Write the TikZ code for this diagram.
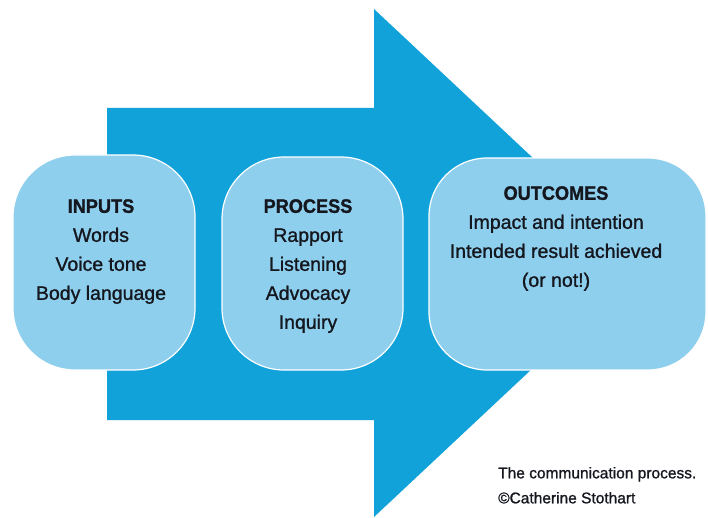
\documentclass[tikz,border=0pt]{standalone}
\usepackage{fontspec}
\setmainfont{Liberation Sans}[FakeBold=1.2, BoldFont={Liberation Sans Bold}, BoldFeatures={FakeStretch=0.93}]
\definecolor{arrowblue}{HTML}{12A2DA}
\definecolor{boxblue}{HTML}{8FCFEE}
\definecolor{ink}{HTML}{15171F}

\begin{document}
\begin{tikzpicture}[x=1pt, y=-1pt,
  stagebox/.style={draw=white, line width=1.2pt, fill=boxblue,
    rounded corners=62pt, inner sep=0pt},
  stagetext/.style={anchor=north, align=center, inner sep=0pt, text=ink,
    font=\fontsize{19.5}{29}\selectfont},
  captiontext/.style={anchor=north west, align=left, inner sep=0pt, text=ink,
    font=\fontsize{15.5}{25}\selectfont}]

  \useasboundingbox (0,0) rectangle (708,518);

  % the big block arrow behind the three stages
  \fill[arrowblue] (107,108) -- (374,108) -- (374,9) -- (645,263)
    -- (374,517) -- (374,420) -- (107,420) -- cycle;

  % stage boxes
  \node[stagebox, minimum width=182pt, minimum height=215pt] (inputs)   at (104,262.5) {};
  \node[stagebox, minimum width=181pt, minimum height=213pt] (process)  at (312.5,263.5) {};
  \node[stagebox, minimum width=277pt, minimum height=212pt, rounded corners=58pt] (outcomes) at (567.5,264) {};

  % stage texts
  \node[stagetext] (inputsText)   at (101,199) {\textbf{INPUTS}\\Words\\Voice tone\\Body language};
  \node[stagetext] (processText)  at (308,199) {\textbf{PROCESS}\\Rapport\\Listening\\Advocacy\\Inquiry};
  \node[stagetext] (outcomesText) at (556,186) {\textbf{OUTCOMES}\\Impact and intention\\Intended result achieved\\(or not!)};

  % caption
  \node[captiontext] (caption) at (498,466.9) {The communication process.\\©Catherine Stothart};
\end{tikzpicture}
\end{document}
